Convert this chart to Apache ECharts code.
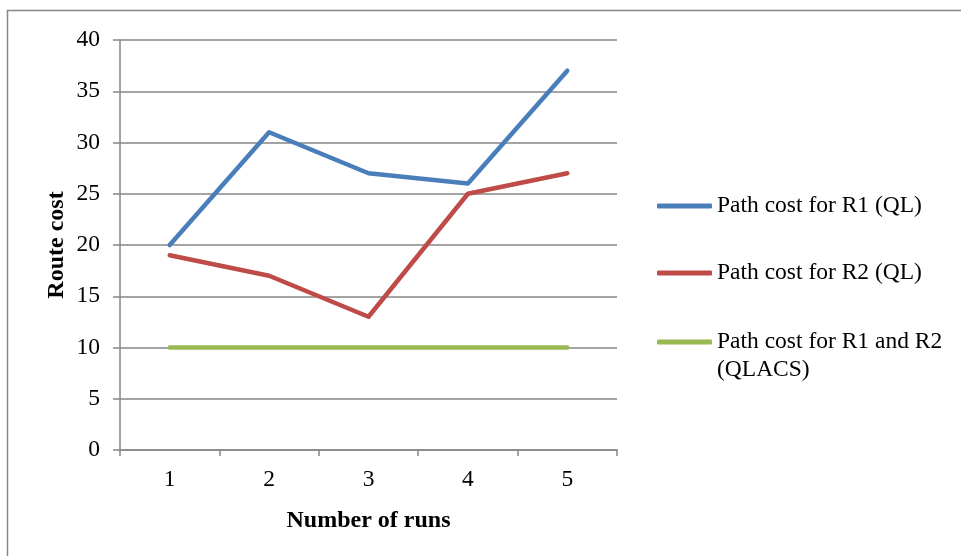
<!DOCTYPE html>
<html>
<head>
<meta charset="utf-8">
<title>Route cost</title>
<script src="https://cdn.jsdelivr.net/npm/echarts@6/dist/echarts.min.js"></script>
<style>
  html, body { margin: 0; padding: 0; background: #ffffff; }
  #chart { width: 961px; height: 556px; }
</style>
</head>
<body>
<div id="chart"></div>
<script>
// Runs along the x axis
const runs = ['1', '2', '3', '4', '5'];

// Path cost per run
const r1QL = [20, 31, 27, 26, 37];
const r2QL = [19, 17, 13, 25, 27];
const r1r2QLACS = [10, 10, 10, 10, 10];

const seriesNames = [
  'Path cost for R1 (QL)',
  'Path cost for R2 (QL)',
  'Path cost for R1 and R2 (QLACS)'
];
const seriesColors = ['#4a7ebb', '#be4b48', '#98b954'];
const seriesData = [r1QL, r2QL, r1r2QLACS];

// Value axis ticks
const yMin = 0, yMax = 40, yStep = 5;

const FONT = 'Liberation Serif, Times New Roman, serif';
const GRID_GRAY = '#868686';

function legendBlock(idx, top, extra) {
  return Object.assign({
    data: [seriesNames[idx]],
    left: 657,
    top: top,
    orient: 'vertical',
    icon: 'roundRect',
    itemWidth: 55,
    itemHeight: 5,
    padding: 0,
    textStyle: { fontFamily: FONT, fontSize: 23.5, color: '#000', lineHeight: 28 }
  }, extra || {});
}

const chart = echarts.init(document.getElementById('chart'), null, { renderer: 'canvas' });

chart.setOption({
  backgroundColor: '#ffffff',
  animation: false,
  graphic: [{
    type: 'rect',
    shape: { x: 7.5, y: 10.5, width: 1000, height: 600 },
    style: { fill: 'none', stroke: GRID_GRAY, lineWidth: 1.5 },
    silent: true
  }],
  grid: { left: 120, top: 40, right: 344, bottom: 106, containLabel: false },
  legend: [
    legendBlock(0, 192),
    legendBlock(1, 259),
    // leading blank line keeps the icon level with the first text line
    legendBlock(2, 300, {
      formatter: function () { return '\nPath cost for R1 and R2\n(QLACS)'; }
    })
  ],
  xAxis: {
    type: 'category',
    data: runs,
    boundaryGap: true,
    name: 'Number of runs',
    nameLocation: 'middle',
    nameGap: 59,
    nameMoveOverlap: false,
    nameTextStyle: { fontFamily: FONT, fontSize: 24, fontWeight: 'bold', color: '#000' },
    axisLine: { lineStyle: { color: GRID_GRAY, width: 1.5 } },
    axisTick: { show: true, length: 6, inside: false, alignWithLabel: false, lineStyle: { color: GRID_GRAY, width: 1.5 } },
    axisLabel: { fontFamily: FONT, fontSize: 23.5, color: '#000', margin: 18 },
    splitLine: { show: false }
  },
  yAxis: {
    type: 'value',
    min: yMin,
    max: yMax,
    interval: yStep,
    name: 'Route cost',
    nameLocation: 'middle',
    nameGap: 51,
    nameMoveOverlap: false,
    nameRotate: 90,
    nameTextStyle: { fontFamily: FONT, fontSize: 24, fontWeight: 'bold', color: '#000' },
    axisLine: { show: true, lineStyle: { color: GRID_GRAY, width: 1.5 } },
    axisTick: { show: true, length: 7, inside: false, lineStyle: { color: GRID_GRAY, width: 1.5 } },
    axisLabel: { fontFamily: FONT, fontSize: 23.5, color: '#000', margin: 20 },
    splitLine: { show: true, lineStyle: { color: GRID_GRAY, width: 1.5 } }
  },
  series: seriesData.map(function (vals, i) {
    return {
      name: seriesNames[i],
      type: 'line',
      data: vals,
      color: seriesColors[i],
      symbol: 'none',
      showSymbol: false,
      lineStyle: { width: 4.5, color: seriesColors[i], cap: 'round', join: 'round' },
      itemStyle: { color: seriesColors[i] }
    };
  })
});
</script>
</body>
</html>
